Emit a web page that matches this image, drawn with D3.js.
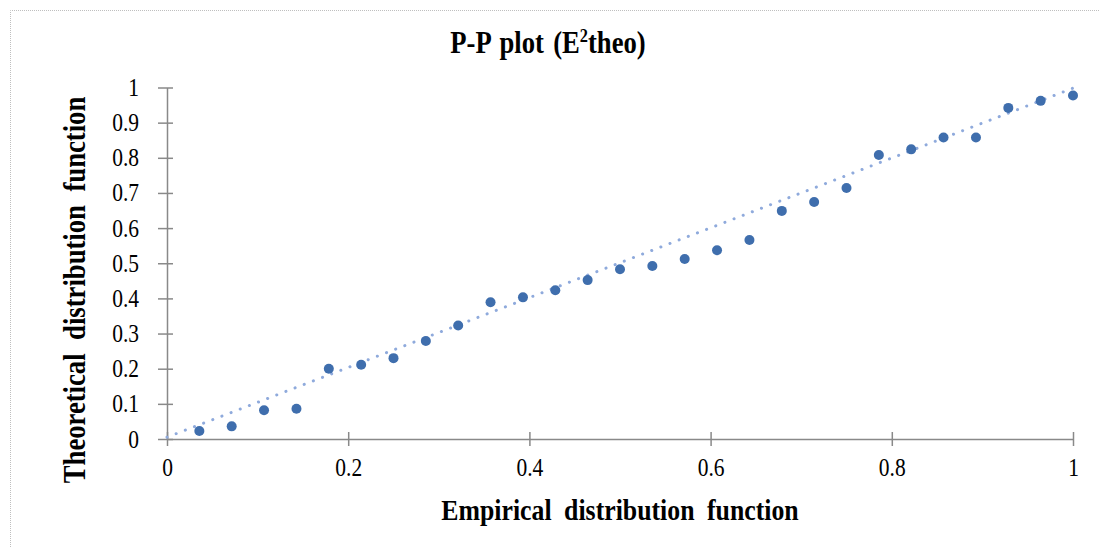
<!DOCTYPE html>
<html>
<head>
    <script src="https://d3js.org/d3.v7.min.js"></script>
    <title>P-P plot</title>
    <style>
        body { margin: 0; background: #fff; }
        text { font-family: "Liberation Serif", "Times New Roman", serif; fill: #000; }
    </style>
</head>
<body>
    <div id="chart"></div>
    <script>
        // empirical cdf positions (i/28) and theoretical cdf values
        const empirical = [
            0.0357, 0.0714, 0.1071, 0.1429, 0.1786, 0.2143, 0.2500, 0.2857, 0.3214, 0.3571,
            0.3929, 0.4286, 0.4643, 0.5000, 0.5357, 0.5714, 0.6071, 0.6429, 0.6786, 0.7143,
            0.7500, 0.7857, 0.8214, 0.8571, 0.8929, 0.9286, 0.9643, 1.0000
        ];
        const theoretical = [
            0.023, 0.036, 0.082, 0.086, 0.200, 0.211, 0.230, 0.279, 0.323, 0.389,
            0.403, 0.423, 0.452, 0.483, 0.492, 0.512, 0.537, 0.566, 0.649, 0.674,
            0.714, 0.808, 0.824, 0.858, 0.858, 0.942, 0.962, 0.977
        ];
        // linear trendline end points
        const trendX = [0, 1];
        const trendY = [0.005, 0.998];

        const xTicks = [0, 0.2, 0.4, 0.6, 0.8, 1];
        const yTicks = [0, 0.1, 0.2, 0.3, 0.4, 0.5, 0.6, 0.7, 0.8, 0.9, 1];

        const width = 1099;
        const height = 548;
        const margin = { top: 87.5, right: 26, bottom: 109, left: 167 };
        const squeeze = 0.86; // the original text looks narrow and tall

        const svg = d3.select("#chart")
            .append("svg")
            .attr("width", width)
            .attr("height", height);

        // chart area border (dotted light grey, runs off the right/bottom edge)
        svg.append("path")
            .attr("d", `M10.5,${height + 5} V10.5 H${width + 5}`)
            .attr("fill", "none")
            .attr("stroke", "#bfbfbf")
            .attr("stroke-width", 1)
            .attr("stroke-dasharray", "1,1");

        const xScale = d3.scaleLinear()
            .domain([0, 1])
            .range([margin.left, width - margin.right]);

        const yScale = d3.scaleLinear()
            .domain([0, 1])
            .range([height - margin.bottom, margin.top]);

        // axes (Excel style: cross tick marks)
        const xAxis = svg.append("g")
            .attr("transform", `translate(0, ${yScale(0)})`)
            .call(d3.axisBottom(xScale).tickValues(xTicks).tickFormat(d3.format("~g"))
                .tickSizeInner(0).tickSizeOuter(0).tickPadding(19));

        const yAxis = svg.append("g")
            .attr("transform", `translate(${xScale(0)}, 0)`)
            .call(d3.axisLeft(yScale).tickValues(yTicks).tickFormat(d3.format("~g"))
                .tickSizeInner(0).tickSizeOuter(0).tickPadding(28));

        [xAxis, yAxis].forEach(g => {
            g.select(".domain").attr("stroke", "#898989").attr("stroke-width", 1.5);
            g.selectAll("text")
                .style("font-size", "25px")
                .style("font-family", "Liberation Serif")
                .attr("transform", `scale(${squeeze},1)`);
        });
        yAxis.selectAll("text").attr("x", -28 / squeeze);

        // cross tick marks
        xAxis.selectAll(".tick").append("line")
            .attr("y1", -7).attr("y2", 7)
            .attr("stroke", "#898989").attr("stroke-width", 1.5);
        yAxis.selectAll(".tick").append("line")
            .attr("x1", -9).attr("x2", 6)
            .attr("stroke", "#898989").attr("stroke-width", 1.5);

        // trendline
        const line = d3.line()
            .x((d, i) => xScale(trendX[i]))
            .y(d => yScale(d));

        svg.append("path")
            .datum(trendY)
            .attr("d", line)
            .attr("fill", "none")
            .attr("stroke", "#8faadc")
            .attr("stroke-width", 3)
            .attr("stroke-linecap", "round")
            .attr("stroke-dasharray", "0.1,9.7");

        // points
        svg.selectAll(".dot")
            .data(theoretical)
            .enter().append("circle")
            .attr("class", "dot")
            .attr("cx", (d, i) => xScale(empirical[i]))
            .attr("cy", d => yScale(d))
            .attr("r", 5)
            .attr("fill", "#3f6ead");

        // title
        const title = svg.append("text")
            .attr("transform", `translate(548, 53) scale(${squeeze},1)`)
            .style("text-anchor", "middle")
            .style("font-size", "31px")
            .style("font-weight", "bold")
            .style("word-spacing", "3px");
        title.append("tspan").text("P-P plot (E");
        title.append("tspan").attr("dy", -11).style("font-size", "19px").text("2");
        title.append("tspan").attr("dy", 11).text("theo)");

        // axis titles
        svg.append("text")
            .attr("transform", `translate(${(xScale(0) + xScale(1)) / 2}, 520) scale(${squeeze},1)`)
            .style("text-anchor", "middle")
            .style("font-size", "30px")
            .style("font-weight", "bold")
            .style("word-spacing", "7px")
            .text("Empirical distribution function");

        svg.append("text")
            .attr("transform", `translate(85, 290) rotate(-90) scale(${squeeze},1)`)
            .style("text-anchor", "middle")
            .style("font-size", "31px")
            .style("font-weight", "bold")
            .style("word-spacing", "8px")
            .text("Theoretical distribution function");
    </script>
</body>
</html>
